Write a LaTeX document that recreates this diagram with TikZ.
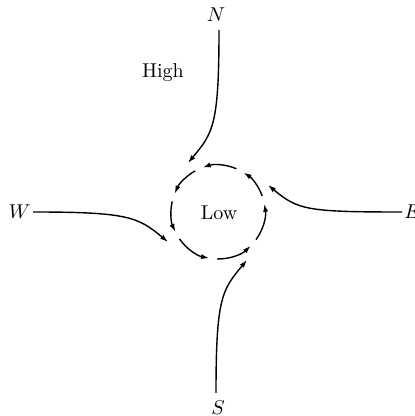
\documentclass[tikz,border=0pt]{standalone}
\usetikzlibrary{arrows.meta}
\tikzset{
  compass/.style={inner xsep=1pt,inner ysep=4pt},
  note/.style={inner sep=1pt},
  arrow/.style={-{Latex[length=4pt,width=2.6pt]},line width=0.7pt}
}
\begin{document}
\begin{tikzpicture}[x=0.5pt,y=0.5pt]
\useasboundingbox (0,0) rectangle (415,416);

% compass points
\node[compass] (N) at (216,401) {$N$};
\node[compass] (S) at (218,8) {$S$};
\node[compass,anchor=east] (W) at (33,204) {$W$};
\node[compass,anchor=west] (E) at (402,204) {$E$};

\node[note] (high) at (163,343) {High};
\node[note] (low) at (219,203) {Low};

% where the inflow meets the low
\coordinate (c) at (218,204);
\coordinate (nIn) at (188,253);
\coordinate (wIn) at (168,174);
\coordinate (sIn) at (247,156);
\coordinate (eIn) at (268,231);

\draw[arrow] ([xshift=1.5pt]N.south) .. controls +(0,-95) and +(25,30) .. (nIn);
\draw[arrow] (W.east) .. controls +(95,0) and +(-30,25) .. (wIn);
\draw[arrow] ([xshift=-1pt]S.north) .. controls +(0,95) and +(-25,-30) .. (sIn);
\draw[arrow] (E.west) .. controls +(-95,0) and +(30,-25) .. (eIn);

% circulation round the low
\foreach \a/\b in {114/162,162/210,210/264,264/319,319/375,375/422,422/474}
  \draw[arrow] (c) ++(\a+5:47) arc[start angle=\a+5,end angle=\b-5,radius=47];

\end{tikzpicture}
\end{document}
